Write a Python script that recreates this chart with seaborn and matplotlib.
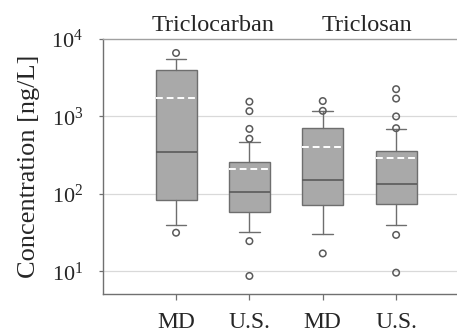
import matplotlib
matplotlib.use("Agg")
import matplotlib.pyplot as plt
import seaborn as sns
import pandas as pd

# box summary values (ng/L)
groups = ["MD", "U.S.", "MD", "U.S."]
compounds = ["Triclocarban", "Triclocarban", "Triclosan", "Triclosan"]
whisker_low = [40, 32, 30, 40]
q1 = [83, 59, 72, 74]
median = [347, 107, 152, 135]
q3 = [3980, 257, 705, 358]
whisker_high = [5500, 470, 1170, 680]
mean = [1740, 210, 405, 290]
outliers = [
    [31.5, 6600],
    [24.5, 8.7, 515, 690, 1170, 1550],
    [17, 1180, 1580],
    [29.5, 9.6, 705, 1000, 1700, 2250],
]

sns.set_theme(style="white")
plt.rcParams["font.family"] = ["Liberation Serif", "DejaVu Serif"]
plt.rcParams["mathtext.fontset"] = "custom"
plt.rcParams["mathtext.rm"] = "Liberation Serif"

fig = plt.figure(figsize=(4.57, 3.35), dpi=100)
ax = fig.add_axes([0.2247, 0.1224, 0.7753, 0.7612])

stats = []
for i in range(len(groups)):
    stats.append({
        "whislo": whisker_low[i], "q1": q1[i], "med": median[i],
        "q3": q3[i], "whishi": whisker_high[i], "mean": mean[i],
        "fliers": [], "label": groups[i],
    })

edge = "#6e6e6e"
ax.bxp(stats, positions=range(len(groups)), widths=0.56, patch_artist=True,
       showmeans=True, meanline=True, showfliers=False,
       boxprops=dict(facecolor="#a9a9a9", edgecolor=edge, linewidth=1.0),
       medianprops=dict(color="#5a5a5a", linewidth=1.2),
       whiskerprops=dict(color=edge, linewidth=1.0),
       capprops=dict(color=edge, linewidth=1.0),
       meanprops=dict(color="white", linestyle=(0, (3.5, 2)), linewidth=1.4))

# outliers
rows = [(i, v) for i, vals in enumerate(outliers) for v in vals]
df = pd.DataFrame(rows, columns=["pos", "value"])
sns.scatterplot(data=df, x="pos", y="value", ax=ax, marker="o", s=22,
                facecolors="none", edgecolor="#5a5a5a", linewidth=1.1, zorder=5)

ax.set_yscale("log")
ax.set_ylim(5.09, 1e4)
ax.set_xlim(-1.0, 3.83)
ax.set_xticks(range(len(groups)))
ax.set_xticklabels(groups, fontsize=17)
ax.set_yticks([1e1, 1e2, 1e3, 1e4])
ax.set_yticklabels([r"$\mathregular{10^{%d}}$" % k for k in range(1, 5)], fontsize=16)
ax.minorticks_off()
ax.set_xlabel("")
ax.set_ylabel("Concentration [ng/L]", fontsize=19, labelpad=8)

for yv in [1e1, 1e2, 1e3]:
    ax.axhline(yv, color="#d9d9d9", linewidth=0.9, zorder=0)

for side in ["left", "bottom", "top"]:
    ax.spines[side].set_color("#707070")
    ax.spines[side].set_linewidth(1.0)
ax.spines["right"].set_visible(False)
ax.spines["top"].set_color("#a0a0a0")

ax.tick_params(axis="y", direction="out", length=3, width=0.9, color="#707070", pad=11, left=True)
ax.tick_params(axis="x", direction="out", length=4, width=0.9, color="#707070", pad=9, bottom=True)

# compound titles above each pair
ax.text(0.5, 1.01, compounds[0], transform=ax.get_xaxis_transform(),
        ha="center", va="bottom", fontsize=17.5)
ax.text(2.6, 1.01, compounds[2], transform=ax.get_xaxis_transform(),
        ha="center", va="bottom", fontsize=17.5)

fig.savefig("out.png", dpi=100)
